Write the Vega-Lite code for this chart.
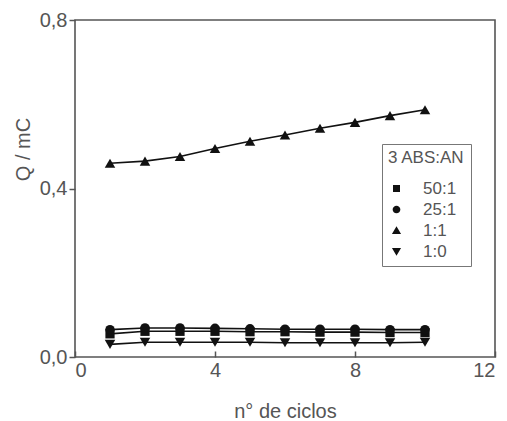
{
  "$schema": "https://vega.github.io/schema/vega-lite/v6.json",
  "width": 420,
  "height": 337,
  "autosize": "none",
  "padding": {"left": 75, "top": 20, "right": 12, "bottom": 64},
  "background": "white",
  "config": {
    "view": {"stroke": "#555", "strokeWidth": 1.6},
    "font": "Liberation Sans",
    "axis": {"labelFont": "Liberation Sans", "titleFont": "Liberation Sans", "labelFontSize": 20, "titleFontSize": 20, "labelColor": "#555", "titleColor": "#555", "titleFontWeight": "normal", "grid": false, "domain": false, "tickColor": "#555", "tickWidth": 1.5}
  },
  "data": {"values": [
    {"s": "A", "n": 1, "q": 0.055}, {"s": "A", "n": 2, "q": 0.061}, {"s": "A", "n": 3, "q": 0.061}, {"s": "A", "n": 4, "q": 0.061}, {"s": "A", "n": 5, "q": 0.060}, {"s": "A", "n": 6, "q": 0.060}, {"s": "A", "n": 7, "q": 0.059}, {"s": "A", "n": 8, "q": 0.059}, {"s": "A", "n": 9, "q": 0.058}, {"s": "A", "n": 10, "q": 0.058},
    {"s": "B", "n": 1, "q": 0.065}, {"s": "B", "n": 2, "q": 0.069}, {"s": "B", "n": 3, "q": 0.069}, {"s": "B", "n": 4, "q": 0.068}, {"s": "B", "n": 5, "q": 0.067}, {"s": "B", "n": 6, "q": 0.066}, {"s": "B", "n": 7, "q": 0.066}, {"s": "B", "n": 8, "q": 0.066}, {"s": "B", "n": 9, "q": 0.065}, {"s": "B", "n": 10, "q": 0.065},
    {"s": "C", "n": 1, "q": 0.460}, {"s": "C", "n": 2, "q": 0.465}, {"s": "C", "n": 3, "q": 0.476}, {"s": "C", "n": 4, "q": 0.495}, {"s": "C", "n": 5, "q": 0.512}, {"s": "C", "n": 6, "q": 0.527}, {"s": "C", "n": 7, "q": 0.543}, {"s": "C", "n": 8, "q": 0.557}, {"s": "C", "n": 9, "q": 0.573}, {"s": "C", "n": 10, "q": 0.587},
    {"s": "D", "n": 1, "q": 0.030}, {"s": "D", "n": 2, "q": 0.035}, {"s": "D", "n": 3, "q": 0.035}, {"s": "D", "n": 4, "q": 0.035}, {"s": "D", "n": 5, "q": 0.035}, {"s": "D", "n": 6, "q": 0.034}, {"s": "D", "n": 7, "q": 0.034}, {"s": "D", "n": 8, "q": 0.034}, {"s": "D", "n": 9, "q": 0.034}, {"s": "D", "n": 10, "q": 0.035}
  ]},
  "encoding": {
    "x": {"field": "n", "type": "quantitative", "scale": {"domain": [0, 12], "nice": false}, "axis": {"title": "n° de ciclos", "values": [0, 4, 8, 12], "tickSize": -6, "labelPadding": 9, "titleY": 60, "titleBaseline": "alphabetic"}},
    "y": {"field": "q", "type": "quantitative", "scale": {"domain": [0, 0.8], "nice": false}, "axis": {"title": "Q / mC", "values": [0, 0.4, 0.8], "tickSize": 6, "labelPadding": 2, "titleX": -52, "titleY": 129, "titleAngle": -90, "titleAlign": "center", "titleBaseline": "middle", "labelExpr": "replace(format(datum.value, '.1f'), '.', ',')"}}
  },
  "layer": [
    {"mark": {"type": "line", "color": "#111", "strokeWidth": 1.6}, "encoding": {"detail": {"field": "s", "type": "nominal"}}},
    {"transform": [{"filter": {"field": "s", "equal": "A"}}], "mark": {"type": "point", "shape": "square", "filled": true, "color": "#111", "opacity": 1, "size": 85}},
    {"transform": [{"filter": {"field": "s", "equal": "B"}}], "mark": {"type": "point", "shape": "circle", "filled": true, "color": "#111", "opacity": 1, "size": 90}},
    {"transform": [{"filter": {"field": "s", "equal": "C"}}], "mark": {"type": "point", "shape": "triangle-up", "filled": true, "color": "#111", "opacity": 1, "size": 110}},
    {"transform": [{"filter": {"field": "s", "equal": "D"}}], "mark": {"type": "point", "shape": "triangle-down", "filled": true, "color": "#111", "opacity": 1, "size": 110}},
    {"mark": {"type": "point", "filled": true, "color": "#111", "opacity": 0, "size": 49},
     "encoding": {"shape": {"field": "s", "type": "nominal",
       "scale": {"domain": ["A", "B", "C", "D"], "range": [
         "M-3.5,0H-1M1,0H3.5M-1,-1H1V1H-1Z",
         "M-3.5,0H-1M1,0H3.5M-1.1,0A1.1,1.1,0,1,1,1.1,0A1.1,1.1,0,1,1,-1.1,0Z",
         "M-3.5,0H-1M1,0H3.5M0,-1.2L1.3,1H-1.3Z",
         "M-3.5,0H-1M1,0H3.5M0,1.2L1.3,-1H-1.3Z"]},
       "legend": {"title": "3 ABS:AN", "orient": "none", "legendX": 307, "legendY": 124, "strokeColor": "#777", "padding": 6, "titleFontSize": 17, "titleFontWeight": "normal", "titleColor": "#555", "titleFont": "Liberation Sans", "labelFont": "Liberation Sans", "labelFontSize": 17, "labelColor": "#555", "labelOffset": 18, "symbolSize": 49, "rowPadding": 3, "titlePadding": 13,
         "symbolStrokeColor": "#111", "symbolFillColor": "#111", "symbolStrokeWidth": 1.5, "symbolOpacity": 1,
         "labelExpr": "datum.label == 'A' ? '50:1' : datum.label == 'B' ? '25:1' : datum.label == 'C' ? '1:1' : '1:0'",
         "encode": {"symbols": {"update": {"opacity": {"value": 1}, "fill": {"value": "#111"}, "fillOpacity": {"value": 1}, "strokeOpacity": {"value": 1}, "stroke": {"value": "#111"}, "strokeWidth": {"value": 1.5}}}}}}}}
  ]
}
